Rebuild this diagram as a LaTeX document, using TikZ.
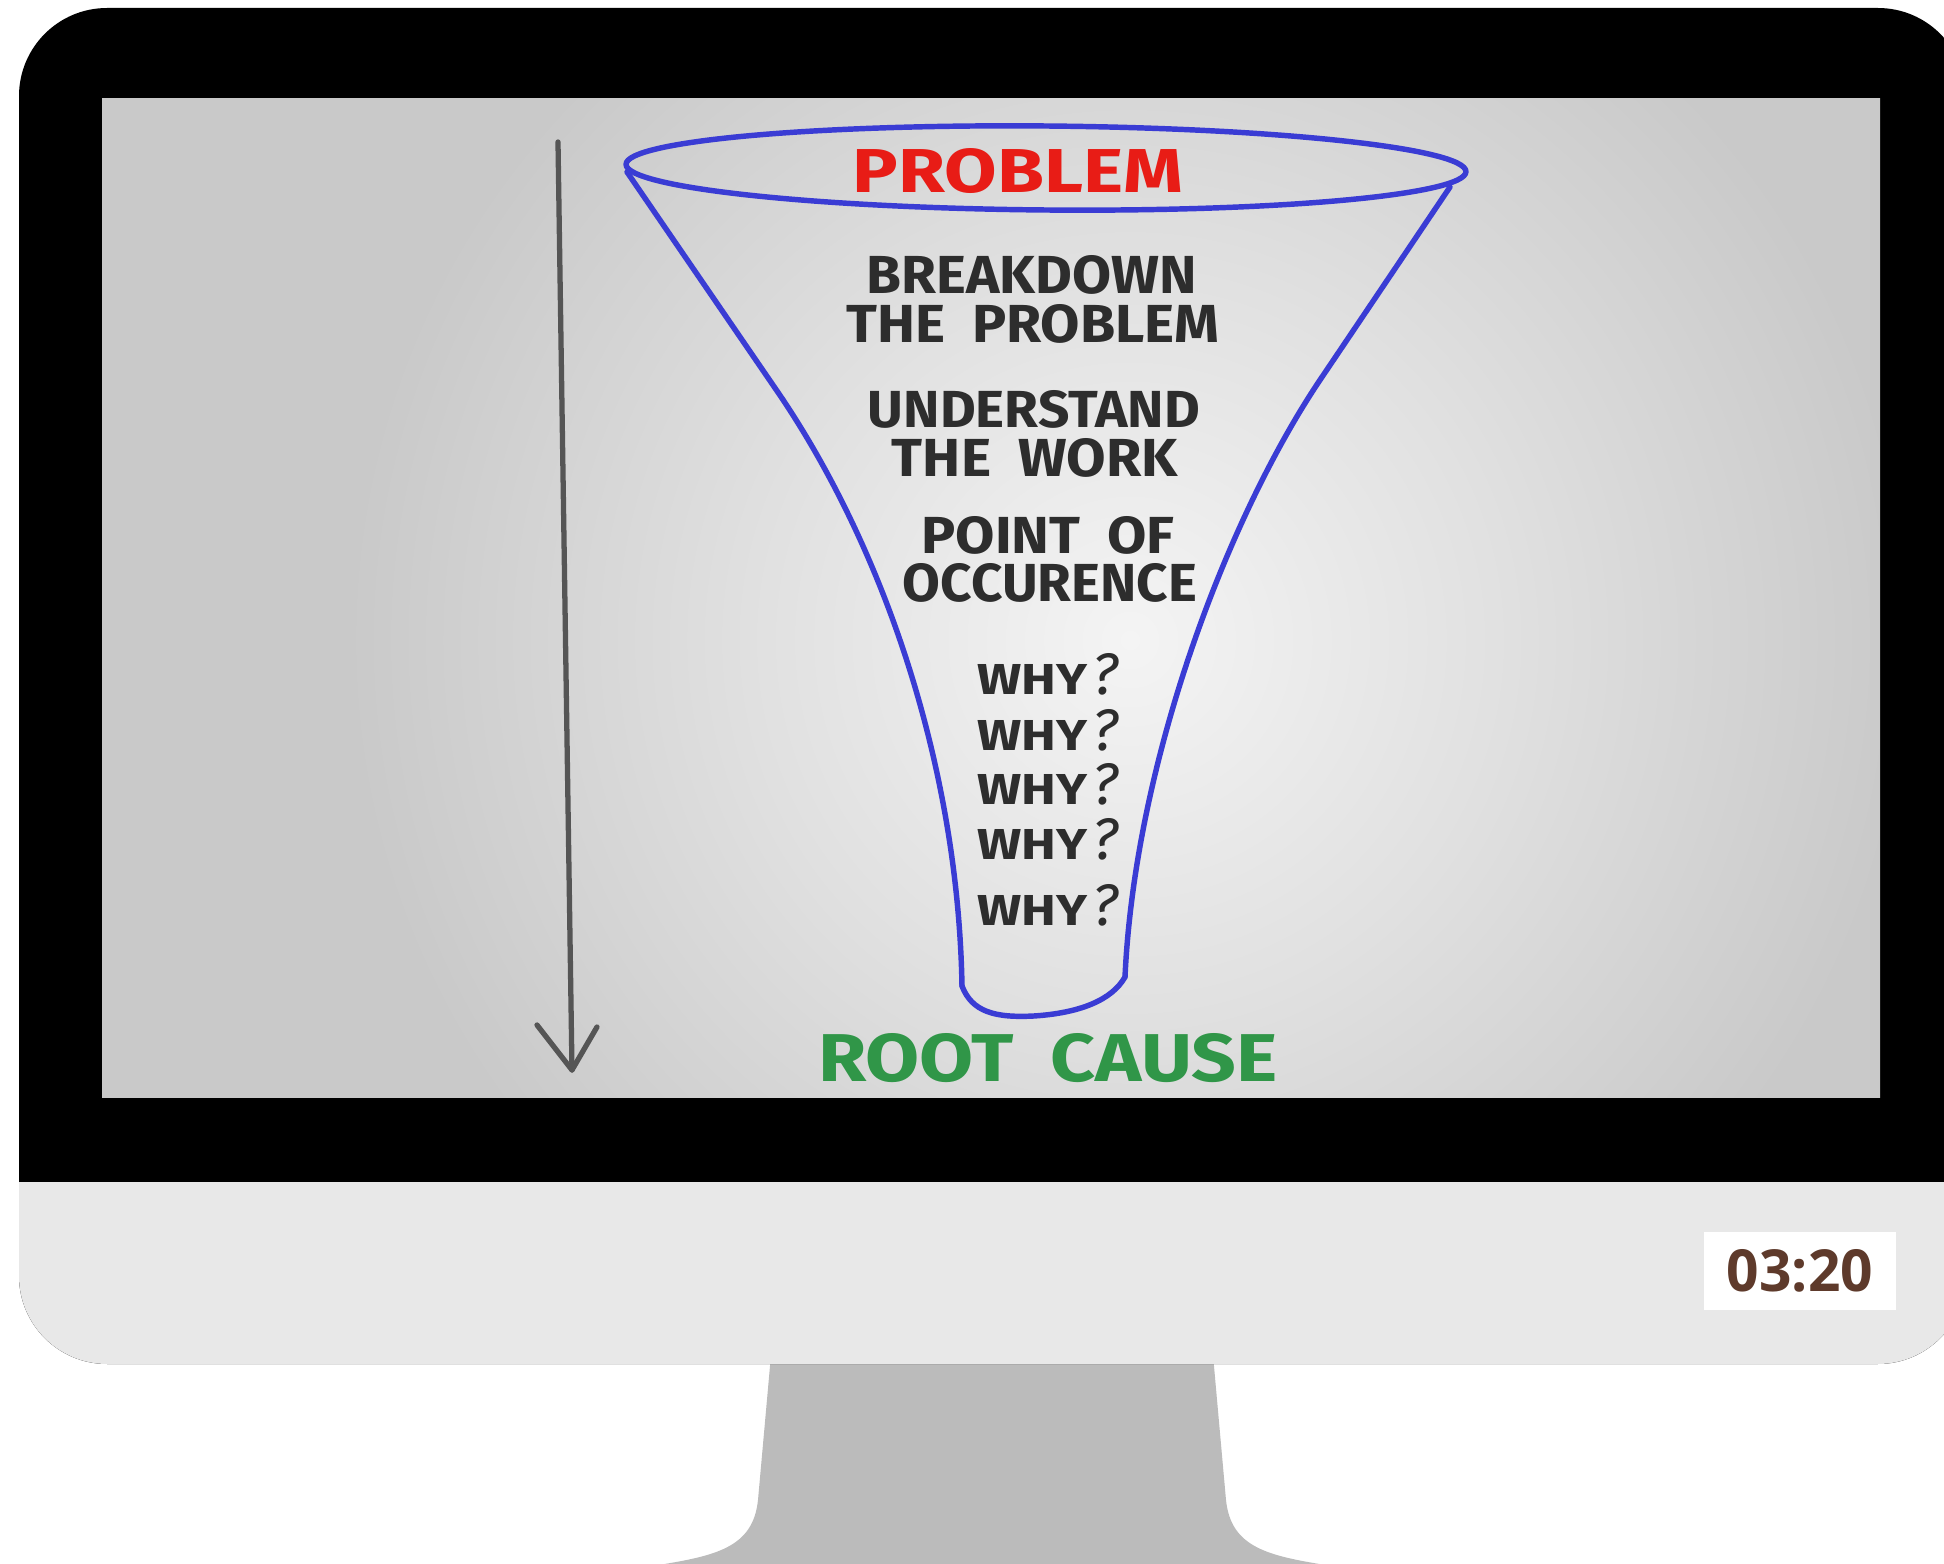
\documentclass[tikz,border=0pt]{standalone}
\usepackage{graphicx}
\usepackage{fontspec}
\setmainfont{Fira Sans}
\newfontfamily\timefont{Open Sans}
\definecolor{funnelblue}{RGB}{58,60,212}
\definecolor{probred}{RGB}{232,28,22}
\definecolor{rootgreen}{RGB}{48,150,72}
\definecolor{inkdark}{RGB}{45,45,45}
\definecolor{arrowgray}{RGB}{85,85,85}
\definecolor{screengray}{RGB}{201,201,201}
\definecolor{screenlight}{RGB}{244,244,244}
\definecolor{chingray}{RGB}{232,232,232}
\definecolor{standgray}{RGB}{187,187,187}
\definecolor{timebrown}{RGB}{94,58,43}
\pgfdeclareradialshading{screenshade}{\pgfpoint{0bp}{0bp}}{%
  color(0bp)=(screenlight); color(9bp)=(screenlight!55!screengray);
  color(19bp)=(screengray); color(50bp)=(screengray)}
\tikzset{
  funnel/.style={draw=funnelblue, line width=1.55pt, line cap=round, line join=round},
  arrowline/.style={draw=arrowgray, line width=1.5pt, line cap=round, line join=round},
  txt/.style={inner sep=0pt, anchor=base, text=inkdark},
}
\newcommand\whyq{\resizebox{1.10cm}{0.30cm}{\bfseries WHY}\hspace{0.05cm}\resizebox{0.26cm}{0.41cm}{\itshape ?}}
\begin{document}
\begin{tikzpicture}[x=0.01cm,y=-0.01cm]
\useasboundingbox (0,0) rectangle (1944,1564);
\clip (0,0) rectangle (1944,1564);
\fill[white] (0,0) rectangle (1944,1564);
% stand
\fill[standgray] (771,1355) -- (1213,1355) -- (1226,1500)
  .. controls (1231,1548) and (1268,1556) .. (1332,1566) -- (652,1566)
  .. controls (716,1556) and (753,1548) .. (758,1500) -- cycle;
% monitor body
\fill[black, rounded corners=0.88cm] (19,8) rectangle (1966,1364);
\begin{scope}
  \clip[rounded corners=0.88cm] (19,8) rectangle (1966,1364);
  \fill[chingray] (0,1182) rectangle (1970,1370);
\end{scope}
% screen
\begin{scope}
  \clip (102,99) rectangle (1880,1098);
  \shade[shading=screenshade] (100,-390) rectangle (2160,1670);
\end{scope}
% arrow
\coordinate (atop) at (558,142);
\coordinate (atip) at (572,1070);
\coordinate (aleft) at (537,1025);
\coordinate (aright) at (597,1027);
\draw[arrowline] (atop) -- (atip);
\draw[arrowline] (aleft) -- (atip) -- (aright);
% funnel
\coordinate (ltop) at (627,172);
\coordinate (lmid) at (775,388);
\coordinate (lbot) at (962,986);
\coordinate (rtop) at (1450,187);
\coordinate (rmid) at (1320,380);
\coordinate (rbot) at (1125,977);
\draw[funnel, rotate around={-0.5:(1046,168)}] (1046,168) ellipse [x radius=420, y radius=42];
\draw[funnel] (ltop) -- (lmid) .. controls (880,540) and (958,760) .. (lbot);
\draw[funnel] (rtop) -- (rmid) .. controls (1228,517) and (1135,760) .. (rbot);
\draw[funnel] (lbot) .. controls (972,1012) and (995,1018) .. (1034,1016) .. controls (1080,1013) and (1112,1000) .. (rbot);
% texts
\node[txt, text=probred] (problem) at (1018,193) {\resizebox{3.30cm}{0.44cm}{\bfseries PROBLEM}};
\node[txt] (bd1) at (1032,294) {\resizebox{3.30cm}{0.38cm}{\bfseries BREAKDOWN}};
\node[txt] (bd2) at (1033,343) {\resizebox{3.73cm}{0.38cm}{\bfseries THE\ \ PROBLEM}};
\node[txt] (uw1) at (1034,428) {\resizebox{3.32cm}{0.37cm}{\bfseries UNDERSTAND}};
\node[txt] (uw2) at (1035,477) {\resizebox{2.86cm}{0.38cm}{\bfseries THE\ \ WORK}};
\node[txt] (po1) at (1048,554) {\resizebox{2.53cm}{0.37cm}{\bfseries POINT\ \ OF}};
\node[txt] (po2) at (1050,602) {\resizebox{2.94cm}{0.38cm}{\bfseries OCCURENCE}};
\node[txt] (w1) at (1048,695) {\whyq};
\node[txt] (w2) at (1048,751) {\whyq};
\node[txt] (w3) at (1048,805) {\whyq};
\node[txt] (w4) at (1048,860) {\whyq};
\node[txt] (w5) at (1048,926) {\whyq};
\node[txt, text=rootgreen] (root) at (1048,1081) {\resizebox{4.59cm}{0.48cm}{\bfseries ROOT\ \ CAUSE}};
% time label
\node[fill=white, minimum width=1.92cm, minimum height=0.78cm, inner sep=0pt, text=timebrown] (time) at (1800,1271) {\resizebox{1.46cm}{0.42cm}{\timefont\bfseries 03:20}};
\end{tikzpicture}
\end{document}
